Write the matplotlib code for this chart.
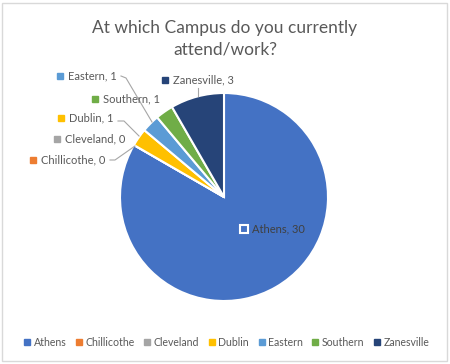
import numpy as np
import matplotlib.pyplot as plt
from matplotlib.lines import Line2D
from matplotlib.patches import Rectangle

campus = ['Athens', 'Chillicothe', 'Cleveland', 'Dublin', 'Eastern', 'Southern', 'Zanesville']
count = [30, 0, 0, 1, 1, 1, 3]
colors = ['#4472C4', '#ED7D31', '#A5A5A5', '#FFC000', '#5B9BD5', '#70AD47', '#264478']

plt.rcParams['font.family'] = ['Lato', 'DejaVu Sans']
txt = '#595959'

fig = plt.figure(figsize=(4.5, 3.64), dpi=100)
ax = fig.add_axes([0, 0, 1, 1])

ax.add_patch(Rectangle((2, 3), 445, 358, fill=False, ec='#D9D9D9', lw=1))

cx, cy, r = 224, 197, 104
# y axis is flipped below, so counterclock in data = clockwise on screen
wedges, _ = ax.pie(count, colors=colors, startangle=-90, counterclock=True,
                   center=(cx, cy), radius=r, frame=True,
                   wedgeprops=dict(edgecolor='white', linewidth=1.5))
ax.set_xlim(0, 450)
ax.set_ylim(364, 0)
ax.set_aspect('equal')
ax.axis('off')

ax.text(225, 39, 'At which Campus do you currently\nattend/work?', ha='center', va='center',
        fontsize=12.5, color=txt, linespacing=1.45)

# label positions (marker x, y) for each slice
lab_pos = {
    'Athens': (244, 229),
    'Chillicothe': (33, 160),
    'Cleveland': (57, 139),
    'Dublin': (61, 118),
    'Eastern': (60, 76),
    'Southern': (95, 99),
    'Zanesville': (165, 80),
}
for name, v, c in zip(campus, count, colors):
    mx, my = lab_pos[name]
    if name == 'Athens':
        ax.plot(mx, my, 's', ms=6, mfc=c, mec='white', mew=1.5)
        tc = '#404040'
    else:
        ax.plot(mx, my, 's', ms=4, color=c)
        tc = txt
    ax.text(mx + 8, my, f'{name}, {v}', ha='left', va='center', fontsize=8, color=tc)

# leader lines
lc = '#A6A6A6'
ax.plot([121, 126, 152], [76, 78, 122], color=lc, lw=0.8)
ax.plot([198, 198], [88, 96], color=lc, lw=0.8)
ax.plot([118, 124, 139], [121, 121, 136], color=lc, lw=0.8)
ax.plot([110, 115, 135], [160, 160, 146], color=lc, lw=0.8)

handles = [Line2D([], [], marker='s', ls='', ms=4, color=c) for c in colors]
leg = ax.legend(handles, campus, loc='center', bbox_to_anchor=(227 / 450, 1 - 342 / 364),
                bbox_transform=fig.transFigure, ncol=7, frameon=False, fontsize=7.6,
                handlelength=0.5, handletextpad=0.35, columnspacing=0.95, labelcolor=txt)

fig.savefig('out.png', dpi=100)
